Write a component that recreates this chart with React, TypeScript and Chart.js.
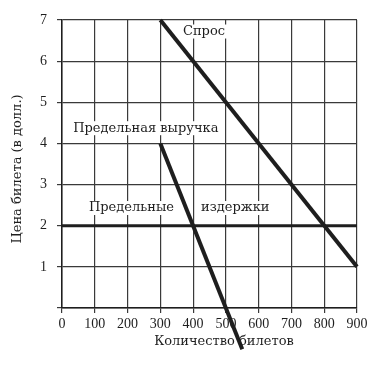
import React, { useEffect, useRef } from "react";
import { Chart, registerables } from "chart.js";

Chart.register(...registerables);

const demandQ = [300, 900];
const demandP = [7, 1];
const mrQ = [300, 550];
const mrP = [4, -1];
const mcQ = [0, 900];
const mcP = [2, 2];

const xTicks = [0, 100, 200, 300, 400, 500, 600, 700, 800, 900];
const yTicks = [1, 2, 3, 4, 5, 6, 7];

const notes = [
  { text: "Спрос", x: 369, y: 6.72 },
  { text: "Предельная выручка", x: 34, y: 4.37 },
  { text: "Предельные", x: 82, y: 2.43 },
  { text: "издержки", x: 424, y: 2.43 },
];
const yTitle = "Цена билета (в долл.)";
const xTitle = "Количество билетов";

const FONT = "'Liberation Serif', 'DejaVu Serif', serif";
const TFONT = "'DejaVu Serif', serif";
const INK = "#1e1e1e";

const textPlugin = {
  id: "texts",
  afterDraw(chart: any) {
    const ctx = chart.ctx;
    const xs = chart.scales.x;
    const ys = chart.scales.y;
    ctx.save();
    ctx.fillStyle = INK;
    ctx.font = `13px ${TFONT}`;
    ctx.textBaseline = "middle";
    ctx.textAlign = "left";
    for (const n of notes) {
      const px = xs.getPixelForValue(n.x);
      const py = ys.getPixelForValue(n.y);
      ctx.fillStyle = "#fff";
      const w = ctx.measureText(n.text).width;
      ctx.fillRect(px - 2, py - 7, w + 4, 14);
      ctx.fillStyle = INK;
      ctx.fillText(n.text, px, py);
    }
    // axis titles
    ctx.textAlign = "center";
    ctx.fillText(xTitle, 224, 342);
    ctx.translate(18, 169);
    ctx.rotate(-Math.PI / 2);
    ctx.fillText(yTitle, 0, 0);
    ctx.restore();
  },
};

export default function App() {
  const ref = useRef<HTMLCanvasElement | null>(null);
  useEffect(() => {
    document.body.style.margin = "0";
    const line = (qs: number[], ps: number[], w: number) => ({
      data: qs.map((q, i) => ({ x: q, y: ps[i] })),
      borderColor: INK,
      borderWidth: w,
      pointRadius: 0,
      fill: false,
      clip: false as any,
      borderCapStyle: "butt" as const,
    });
    const chart = new Chart(ref.current!, {
      type: "line",
      data: {
        datasets: [
          line(mcQ, mcP, 3),
          line(demandQ, demandP, 4),
          line(mrQ, mrP, 4),
        ],
      },
      options: {
        animation: false,
        responsive: false,
        layout: { padding: { top: 20, right: 25, left: 0, bottom: 0 } },
        plugins: { legend: { display: false }, tooltip: { enabled: false } },
        scales: {
          x: {
            type: "linear",
            min: 0,
            max: 900,
            afterFit: (s: any) => { s.height = 58; },
            afterBuildTicks: (s: any) => { s.ticks = xTicks.map((v) => ({ value: v })); },
            ticks: { color: INK, font: { family: FONT, size: 14 }, padding: 3, maxRotation: 0 },
            grid: { color: "#3a3a3a", lineWidth: 1.2, tickLength: 5 },
            border: { color: INK, width: 1.5 },
          },
          y: {
            type: "linear",
            min: 0,
            max: 7,
            afterFit: (s: any) => { s.width = 62; },
            afterBuildTicks: (s: any) => { s.ticks = [0, ...yTicks].map((v) => ({ value: v })); },
            ticks: {
              color: INK,
              font: { family: FONT, size: 14 },
              padding: 10,
              callback: (v: any) => (v === 0 ? "" : String(v)),
            },
            grid: { color: "#3a3a3a", lineWidth: 1.2, tickLength: 5 },
            border: { color: INK, width: 1.5 },
          },
        },
      },
      plugins: [textPlugin],
    });
    return () => chart.destroy();
  }, []);
  return (
    <div style={{ position: "fixed", left: 0, top: 0, width: 382, height: 366, background: "#fff" }}>
      <canvas ref={ref} width={382} height={366} style={{ width: 382, height: 366 }} />
    </div>
  );
}
